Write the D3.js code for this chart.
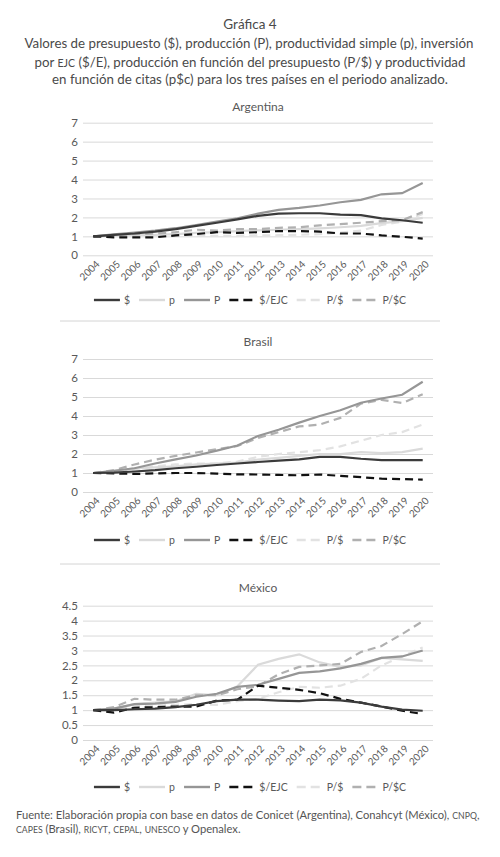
<!DOCTYPE html>
<html>
<head>
<meta charset="utf-8">
<script src="https://cdn.jsdelivr.net/npm/d3@7"></script>
<style>
  body { margin: 0; background: #fff; }
  text { font-family: Lato, "Noto Sans", sans-serif; }
</style>
</head>
<body>
<div id="chart"></div>
<script>
var svgWidth = 500;
var svgHeight = 857;

var years = ["2004","2005","2006","2007","2008","2009","2010","2011","2012",
             "2013","2014","2015","2016","2017","2018","2019","2020"];
var seriesNames = ["$", "p", "P", "$/EJC", "P/$", "P/$C"];

// Argentina
var argPresupuesto = [1.0,1.08,1.15,1.25,1.38,1.55,1.72,1.9,2.08,2.2,2.22,2.22,2.15,2.12,1.95,1.85,1.72];
var argProdSimple  = [1.0,1.05,1.08,1.08,1.12,1.18,1.22,1.28,1.32,1.35,1.38,1.42,1.48,1.55,1.7,1.8,1.98];
var argProduccion  = [1.0,1.1,1.2,1.3,1.43,1.6,1.78,1.95,2.2,2.4,2.5,2.63,2.8,2.93,3.22,3.28,3.82];
var argPorEjc      = [1.0,0.95,0.95,0.95,1.05,1.12,1.22,1.18,1.22,1.28,1.28,1.25,1.15,1.15,1.05,0.98,0.88];
var argPorPresup   = [1.0,1.0,1.0,1.0,1.02,1.03,1.03,1.03,1.05,1.06,1.08,1.12,1.2,1.3,1.6,1.78,2.18];
var argPorCitas    = [1.0,1.05,1.12,1.15,1.22,1.35,1.3,1.38,1.38,1.45,1.48,1.58,1.65,1.72,1.8,1.85,2.28];

// Brasil
var braPresupuesto = [1.0,1.02,1.08,1.15,1.25,1.33,1.42,1.5,1.58,1.65,1.72,1.85,1.85,1.75,1.68,1.68,1.68];
var braProdSimple  = [1.0,1.1,1.25,1.3,1.35,1.45,1.5,1.55,1.7,1.8,1.9,2.0,2.0,2.1,2.05,2.1,2.28];
var braProduccion  = [1.0,1.12,1.25,1.5,1.72,1.92,2.18,2.45,2.95,3.28,3.65,4.0,4.3,4.7,4.92,5.12,5.8];
var braPorEjc      = [1.0,0.98,0.95,0.98,1.0,1.0,0.97,0.93,0.92,0.9,0.88,0.92,0.85,0.78,0.7,0.68,0.65];
var braPorPresup   = [1.0,1.1,1.2,1.35,1.45,1.5,1.5,1.6,1.85,2.0,2.1,2.2,2.4,2.7,3.0,3.15,3.55];
var braPorCitas    = [1.0,1.15,1.45,1.7,1.9,2.08,2.25,2.42,2.85,3.15,3.45,3.55,3.9,4.65,4.85,4.68,5.15];

// México
var mexPresupuesto = [1.0,1.0,1.03,1.05,1.1,1.18,1.3,1.35,1.35,1.32,1.3,1.35,1.33,1.25,1.12,1.02,0.98];
var mexProdSimple  = [1.0,1.05,1.2,1.25,1.3,1.55,1.5,1.8,2.52,2.72,2.87,2.6,2.45,2.5,2.75,2.7,2.65];
var mexProduccion  = [1.0,1.05,1.2,1.22,1.28,1.45,1.55,1.78,1.85,2.05,2.25,2.3,2.4,2.55,2.75,2.8,3.0];
var mexPorEjc      = [1.0,0.92,1.08,1.1,1.12,1.12,1.32,1.35,1.82,1.75,1.68,1.57,1.38,1.25,1.12,0.98,0.87];
var mexPorPresup   = [1.0,1.05,1.15,1.15,1.18,1.2,1.18,1.3,1.38,1.6,1.78,1.75,1.82,2.05,2.5,2.8,3.1];
var mexPorCitas    = [1.0,1.1,1.38,1.35,1.35,1.5,1.5,1.7,1.8,2.2,2.45,2.5,2.55,2.95,3.15,3.55,3.98];

var argTicks = [0,1,2,3,4,5,6,7];
var braTicks = [0,1,2,3,4,5,6,7];
var mexTicks = [0,0.5,1,1.5,2,2.5,3,3.5,4,4.5];

var seriesStyle = [
  {color: "#3b3b3b", dash: null},
  {color: "#dadada", dash: null},
  {color: "#969696", dash: null},
  {color: "#111111", dash: "8,5"},
  {color: "#e2e2e2", dash: "8,5"},
  {color: "#b0b0b0", dash: "8,5"}
];

var panels = [
  {name: "Argentina", series: [argPresupuesto, argProdSimple, argProduccion, argPorEjc, argPorPresup, argPorCitas],
   ticks: argTicks, titleY: 111, top: 122.7, bottom: 255.3, legendY: 300},
  {name: "Brasil", series: [braPresupuesto, braProdSimple, braProduccion, braPorEjc, braPorPresup, braPorCitas],
   ticks: braTicks, titleY: 346, top: 359, bottom: 492, legendY: 540},
  {name: "México", series: [mexPresupuesto, mexProdSimple, mexProduccion, mexPorEjc, mexPorPresup, mexPorCitas],
   ticks: mexTicks, titleY: 592, top: 605.7, bottom: 740, legendY: 787}
];

var svg = d3.select("#chart")
  .append("svg")
  .attr("width", svgWidth)
  .attr("height", svgHeight);

// title
var titleLines = ["Valores de presupuesto ($), producción (P), productividad simple (p), inversión",
  null,
  "en función de citas (p$c) para los tres países en el periodo analizado."];

svg.append("text")
  .attr("x", 250).attr("y", 29)
  .attr("text-anchor", "middle")
  .style("font-size", "13.5px").style("fill", "#4a4a4a")
  .text("Gráfica 4");

svg.append("text")
  .attr("x", 249).attr("y", 48)
  .attr("text-anchor", "middle")
  .style("font-size", "13.3px").style("fill", "#4a4a4a")
  .text(titleLines[0]);

var t2 = svg.append("text")
  .attr("x", 250).attr("y", 66.5)
  .attr("text-anchor", "middle")
  .style("font-size", "13.3px").style("fill", "#4a4a4a");
t2.append("tspan").text("por ");
t2.append("tspan").style("font-size", "10.5px").text("EJC");
t2.append("tspan").text(" ($/E), producción en función del presupuesto (P/$) y productividad");

svg.append("text")
  .attr("x", 250).attr("y", 84)
  .attr("text-anchor", "middle")
  .style("font-size", "13.3px").style("fill", "#4a4a4a")
  .text(titleLines[2]);

var x = d3.scalePoint()
  .domain(years)
  .range([83, 433])
  .padding(0.5);

// separators between panels
svg.selectAll("line.sep")
  .data([321, 564])
  .enter().append("line")
  .attr("class", "sep")
  .attr("x1", 60).attr("x2", 440)
  .attr("y1", d => d).attr("y2", d => d)
  .attr("stroke", "#d4d4d4").attr("stroke-width", 1);

panels.forEach(function(pn){
  var g = svg.append("g");
  var y = d3.scaleLinear()
    .domain([0, d3.max(pn.ticks)])
    .range([pn.bottom, pn.top]);

  g.append("text")
    .attr("x", 258).attr("y", pn.titleY)
    .attr("text-anchor", "middle")
    .style("font-size", "12px").style("fill", "#595959")
    .text(pn.name);

  // y grid + labels
  var yAxis = g.append("g")
    .attr("transform", "translate(83,0)")
    .call(d3.axisLeft(y).tickValues(pn.ticks).tickSize(-350).tickPadding(5)
      .tickFormat(d3.format("~g")));
  yAxis.select(".domain").remove();
  yAxis.selectAll("line").attr("stroke", "#d9d9d9");
  yAxis.selectAll("text")
    .style("font-size", "11.5px").style("fill", "#595959")
    .style("font-family", "Lato, 'Noto Sans', sans-serif");

  // x labels
  var xAxis = g.append("g")
    .attr("transform", `translate(0,${pn.bottom})`)
    .call(d3.axisBottom(x).tickSize(0).tickPadding(0));
  xAxis.select(".domain").remove();
  xAxis.selectAll("text")
    .attr("transform", "translate(4,7) rotate(-45)")
    .attr("text-anchor", "end")
    .attr("dy", "0.35em").attr("y", 0)
    .style("font-size", "10px").style("fill", "#595959")
    .style("font-family", "Lato, 'Noto Sans', sans-serif");

  var line = d3.line()
    .x((d, i) => x(years[i]))
    .y(d => y(d));

  // draw in order so dark lines stay on top
  var order = [4, 1, 5, 2, 3, 0];
  order.forEach(function(si){
    g.append("path")
      .datum(pn.series[si])
      .attr("d", line)
      .attr("fill", "none")
      .attr("stroke", seriesStyle[si].color)
      .attr("stroke-width", 2.2)
      .attr("stroke-dasharray", seriesStyle[si].dash);
  });

  // legend
  var lg = g.append("g").attr("transform", `translate(0,${pn.legendY})`);
  var items = lg.selectAll("g.item")
    .data(seriesNames)
    .enter().append("g").attr("class", "item");
  items.append("line")
    .attr("x1", 0).attr("x2", 26)
    .attr("y1", 0).attr("y2", 0)
    .attr("stroke", (d, i) => seriesStyle[i].color)
    .attr("stroke-width", 2.4)
    .attr("stroke-dasharray", (d, i) => seriesStyle[i].dash ? "9,5" : null);
  items.append("text")
    .attr("x", 30).attr("y", 4)
    .style("font-size", "10.5px").style("fill", "#595959")
    .text(d => d);
  var widths = [];
  items.each(function(){ widths.push(this.getBBox().width); });
  var gap = 9;
  var total = d3.sum(widths) + gap * (widths.length - 1);
  var cx = 250 - total / 2;
  items.attr("transform", function(d, i){
    var tx = cx;
    cx += widths[i] + gap;
    return `translate(${tx},0)`;
  });
});

// footer
var f1 = svg.append("text")
  .attr("x", 16).attr("y", 819)
  .style("font-size", "11.2px").style("fill", "#555");
f1.append("tspan").text("Fuente: Elaboración propia con base en datos de Conicet (Argentina), Conahcyt (México), ");
f1.append("tspan").style("font-size", "8.7px").text("CNPQ");
f1.append("tspan").text(",");

var f2 = svg.append("text")
  .attr("x", 16).attr("y", 833)
  .style("font-size", "11.2px").style("fill", "#555");
f2.append("tspan").style("font-size", "8.7px").text("CAPES");
f2.append("tspan").text(" (Brasil), ");
f2.append("tspan").style("font-size", "8.7px").text("RICYT");
f2.append("tspan").text(", ");
f2.append("tspan").style("font-size", "8.7px").text("CEPAL");
f2.append("tspan").text(", ");
f2.append("tspan").style("font-size", "8.7px").text("UNESCO");
f2.append("tspan").text(" y Openalex.");
</script>
</body>
</html>
